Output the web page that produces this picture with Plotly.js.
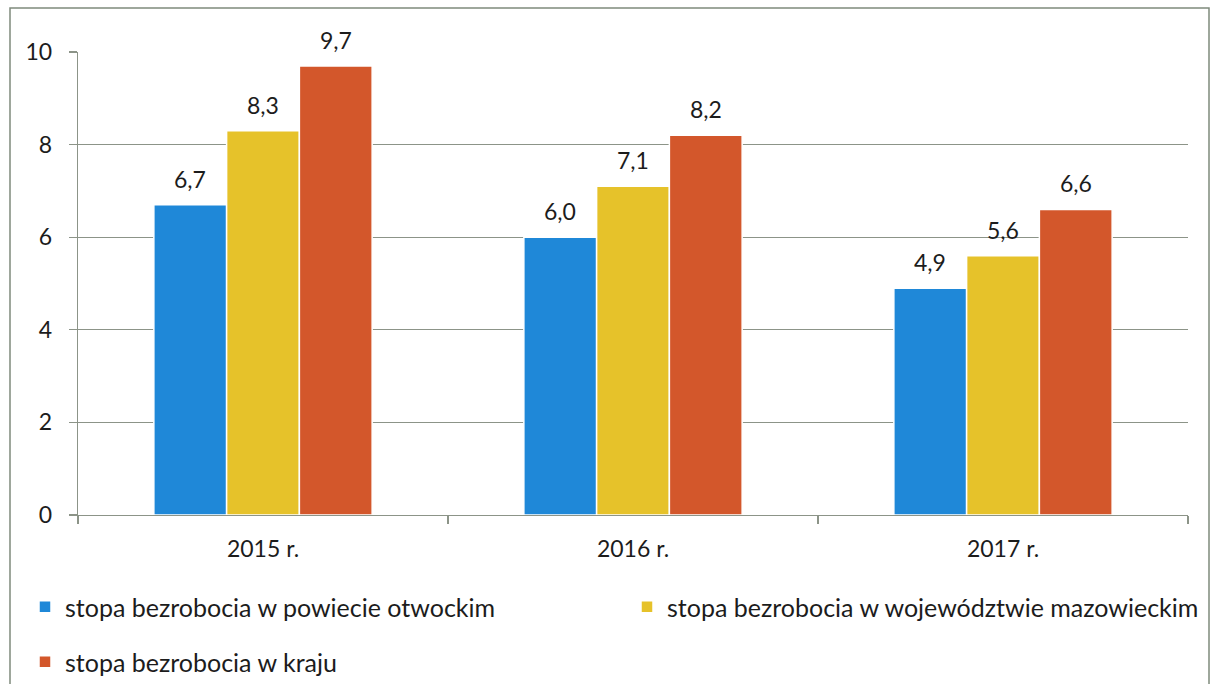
<!DOCTYPE html>
<html>
<head>
<meta charset="utf-8">
<script src="https://cdn.plot.ly/plotly-3.0.1.min.js"></script>
<style>html,body{margin:0;padding:0;background:#fff;}#chart{width:1216px;height:684px;}</style>
</head>
<body>
<div id="chart"></div>
<script>
const categories = ["2015 r.", "2016 r.", "2017 r."];
const powiat = [6.7, 6.0, 4.9];
const wojewodztwo = [8.3, 7.1, 5.6];
const kraj = [9.7, 8.2, 6.6];
const seriesNames = [
  "stopa bezrobocia w powiecie otwockim",
  "stopa bezrobocia w województwie mazowieckim",
  "stopa bezrobocia w kraju"
];
const colors = ["#1f88d8", "#e6c22a", "#d3572b"];
const fmt = v => v.toFixed(1).replace(".", ",");

const FONT = "Lato, 'Open Sans', sans-serif";
const seriesData = [powiat, wojewodztwo, kraj];
const legendIds = ["legend", "legend2", "legend3"];
const BARGAP = 0.41;

const traces = seriesData.map((vals, i) => ({
  type: "bar",
  name: seriesNames[i],
  x: categories,
  y: vals,
  showlegend: true,
  marker: {color: colors[i], line: {color: "#ffffff", width: 1.5}},
  legend: legendIds[i],
  hoverinfo: "skip"
}));

// value labels, anchored to each bar through the axis scales
const slot = (1 - BARGAP) / seriesData.length;
const annotations = [];
seriesData.forEach((vals, k) => {
  vals.forEach((v, i) => {
    annotations.push({
      xref: "x", yref: "y",
      x: i + (k - (seriesData.length - 1) / 2) * slot,
      y: v,
      text: fmt(v),
      showarrow: false,
      yanchor: "bottom",
      yshift: 10,
      font: {family: FONT, size: 23, color: "#1c1c1c"}
    });
  });
});

const gridCol = "#8c9488";
const L = 78, R = 1188, T = 52, B = 515;
const px2x = p => (p - L) / (R - L);
const py2y = p => (B - p) / (B - T);
const legendBase = {
  bgcolor: "rgba(0,0,0,0)",
  font: {family: FONT, size: 25, color: "#1c1c1c"},
  xanchor: "left", yanchor: "middle",
  itemwidth: 30
};

const layout = {
  width: 1216, height: 684,
  margin: {l: L, r: 1216 - R, t: T, b: 684 - B, autoexpand: false},
  paper_bgcolor: "#ffffff",
  plot_bgcolor: "#ffffff",
  showlegend: true,
  barmode: "group",
  bargap: BARGAP,
  bargroupgap: 0.0,
  font: {family: FONT, color: "#1c1c1c"},
  xaxis: {
    type: "category",
    showline: true, linecolor: gridCol, linewidth: 1.2,
    ticks: "outside", ticklen: 8, tickcolor: gridCol, tickwidth: 1.2,
    tickson: "boundaries",
    showgrid: false,
    ticklabelstandoff: 13,
    tickfont: {family: FONT, size: 23, color: "#1c1c1c"}
  },
  yaxis: {
    range: [0, 10], dtick: 2,
    showline: true, linecolor: gridCol, linewidth: 1.2,
    ticks: "outside", ticklen: 8, tickcolor: gridCol, tickwidth: 1.2,
    showgrid: true, gridcolor: gridCol, gridwidth: 1.2,
    zeroline: false,
    ticklabelstandoff: 12,
    tickfont: {family: FONT, size: 23, color: "#1c1c1c"}
  },
  legend: Object.assign({}, legendBase, {x: px2x(25), y: py2y(607)}),
  legend2: Object.assign({}, legendBase, {x: px2x(627), y: py2y(607)}),
  legend3: Object.assign({}, legendBase, {x: px2x(25), y: py2y(662)}),
  annotations: annotations,
  shapes: [{
    type: "rect", xref: "paper", yref: "paper",
    x0: px2x(10), x1: px2x(1209),
    y0: py2y(700), y1: py2y(8),
    line: {color: "#7f8a7c", width: 1.5},
    fillcolor: "rgba(0,0,0,0)",
    layer: "below"
  }]
};

Plotly.newPlot("chart", traces, layout, {displayModeBar: false, staticPlot: true});
</script>
</body>
</html>
